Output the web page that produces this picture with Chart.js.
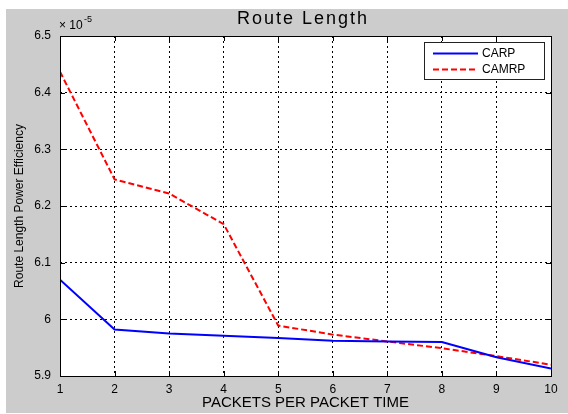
<!DOCTYPE html>
<html>
<head>
<meta charset="utf-8">
<script src="https://cdn.jsdelivr.net/npm/chart.js@4/dist/chart.umd.min.js"></script>
<style>
  html, body { margin: 0; padding: 0; background: #fff; }
  #wrap { width: 568px; height: 414px; position: relative; }
</style>
</head>
<body>
<div id="wrap"><canvas id="chart" width="568" height="414"></canvas></div>
<script>
// values are in units of 1e-5
const packets = [1, 2, 3, 4, 5, 6, 7, 8, 9, 10];
const carp = [6.070, 5.982, 5.975, 5.971, 5.967, 5.962, 5.961, 5.960, 5.933, 5.913];
const camrp = [6.437, 6.247, 6.222, 6.168, 5.989, 5.973, 5.961, 5.949, 5.935, 5.920];
const xTicks = [1, 2, 3, 4, 5, 6, 7, 8, 9, 10];
const yTicks = [5.9, 6, 6.1, 6.2, 6.3, 6.4, 6.5];

const FONT = '"Liberation Sans", Arial, Helvetica, sans-serif';
const FIG_GRAY = '#cccccc';

// matlab-ish figure: gray figure, white axes, box with inward ticks, title, legend
const matlabFrame = {
  id: 'matlabFrame',
  beforeDraw(chart) {
    const { ctx, chartArea: a } = chart;
    ctx.save();
    ctx.fillStyle = FIG_GRAY;
    ctx.fillRect(6, 9, chart.width - 6, 404);
    ctx.fillStyle = '#fff';
    ctx.fillRect(a.left, a.top, a.right - a.left, a.bottom - a.top);
    ctx.restore();
  },
  afterDatasetsDraw(chart) {
    const { ctx, chartArea: a, scales } = chart;
    ctx.save();
    ctx.strokeStyle = '#000';
    ctx.lineWidth = 1;
    ctx.setLineDash([]);
    ctx.beginPath();
    const tl = 5;
    scales.x.ticks.forEach(t => {
      const px = Math.round(scales.x.getPixelForValue(t.value)) + 0.5;
      ctx.moveTo(px, a.bottom); ctx.lineTo(px, a.bottom - tl);
      ctx.moveTo(px, a.top); ctx.lineTo(px, a.top + tl);
    });
    scales.y.ticks.forEach(t => {
      const py = Math.round(scales.y.getPixelForValue(t.value)) + 0.5;
      ctx.moveTo(a.left, py); ctx.lineTo(a.left + tl, py);
      ctx.moveTo(a.right, py); ctx.lineTo(a.right - tl, py);
    });
    ctx.stroke();
    ctx.strokeRect(Math.round(a.left) + 0.5, Math.round(a.top) + 0.5,
      Math.round(a.right - a.left), Math.round(a.bottom - a.top));

    // legend
    const lx = 424.5, ly = 42.5, lw = 120, lh = 37;
    ctx.fillStyle = '#fff';
    ctx.fillRect(lx, ly, lw, lh);
    ctx.strokeStyle = '#222';
    ctx.strokeRect(lx, ly, lw, lh);
    ctx.font = '12px ' + FONT;
    ctx.textBaseline = 'middle';
    ctx.textAlign = 'left';
    chart.data.datasets.forEach((ds, i) => {
      const y = 53.5 + i * 16;
      ctx.strokeStyle = ds.borderColor;
      ctx.lineWidth = ds.borderWidth;
      ctx.setLineDash(ds.borderDash || []);
      ctx.beginPath();
      ctx.moveTo(433, y); ctx.lineTo(478, y);
      ctx.stroke();
      ctx.setLineDash([]);
      ctx.fillStyle = '#000';
      ctx.fillText(ds.label, 482, y + 0.5);
    });

    // title and exponent
    ctx.fillStyle = '#000';
    ctx.textAlign = 'center';
    ctx.textBaseline = 'alphabetic';
    ctx.font = '18px ' + FONT;
    ctx.letterSpacing = '2px';
    ctx.fillText('Route Length', 303, 24);
    ctx.letterSpacing = '0px';
    ctx.textAlign = 'left';
    ctx.font = '12px ' + FONT;
    ctx.fillText('\u00d7 10', 59, 29);
    ctx.font = '9px ' + FONT;
    ctx.fillText('-5', 84, 22);
    ctx.restore();
  }
};

new Chart(document.getElementById('chart'), {
  type: 'line',
  data: {
    datasets: [
      {
        label: 'CARP',
        data: packets.map((x, i) => ({ x, y: carp[i] })),
        borderColor: '#0000ff',
        borderWidth: 2,
        pointRadius: 0,
        tension: 0
      },
      {
        label: 'CAMRP',
        data: packets.map((x, i) => ({ x, y: camrp[i] })),
        borderColor: '#ff0000',
        borderWidth: 2,
        borderDash: [6, 3],
        pointRadius: 0,
        tension: 0
      }
    ]
  },
  options: {
    responsive: false,
    animation: false,
    layout: { padding: { left: 0, top: 36, right: 17, bottom: 0 } },
    plugins: {
      legend: { display: false },
      title: { display: false },
      tooltip: { enabled: false }
    },
    scales: {
      x: {
        type: 'linear',
        min: 1,
        max: 10,
        afterBuildTicks: s => { s.ticks = xTicks.map(v => ({ value: v })); },
        afterFit: s => { s.height = 38; },
        grid: { color: '#000', lineWidth: 1, drawTicks: false },
        border: { display: false, dash: [2, 3] },
        ticks: {
          color: '#000',
          padding: 6,
          font: { family: FONT, size: 12 },
          maxRotation: 0
        },
        title: {
          display: true,
          text: 'PACKETS PER PACKET TIME',
          color: '#000',
          font: { family: FONT, size: 15 },
          padding: { top: 0, bottom: 2 }
        }
      },
      y: {
        type: 'linear',
        min: 5.9,
        max: 6.5,
        afterBuildTicks: s => { s.ticks = yTicks.map(v => ({ value: v })); },
        afterFit: s => { s.width = 60; },
        grid: { color: '#000', lineWidth: 1, drawTicks: false },
        border: { display: false, dash: [2, 3] },
        ticks: {
          color: '#000',
          padding: 9,
          font: { family: FONT, size: 12 },
          callback: v => String(Number(v.toFixed(1)))
        },
        title: {
          display: true,
          text: 'Route Length Power Efficiency',
          color: '#000',
          font: { family: FONT, size: 12 },
          padding: { top: 12, bottom: 0 }
        }
      }
    }
  },
  plugins: [matlabFrame]
});
</script>
</body>
</html>
